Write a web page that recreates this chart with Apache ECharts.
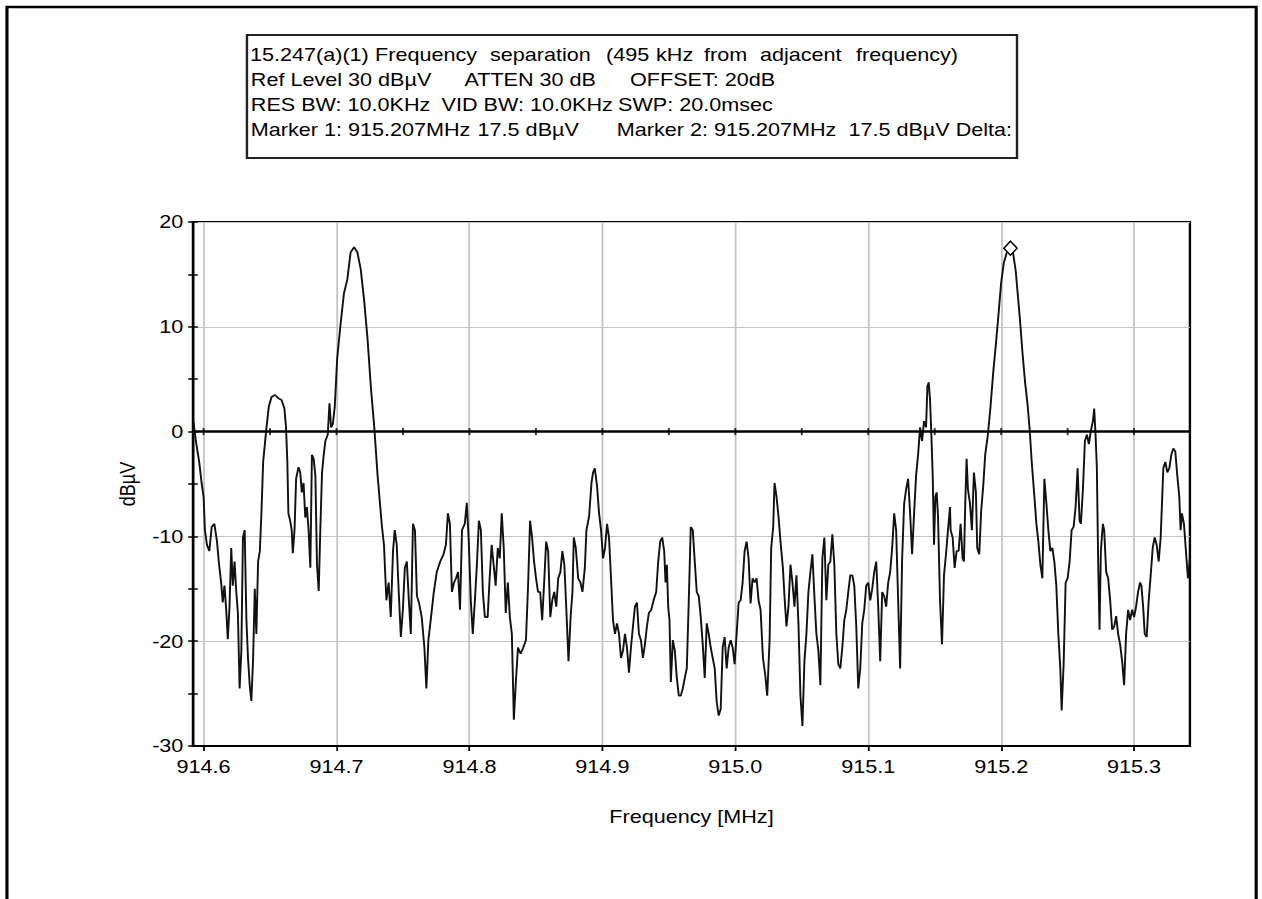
<!DOCTYPE html>
<html>
<head>
<meta charset="utf-8">
<script src="https://cdn.jsdelivr.net/npm/echarts@6/dist/echarts.min.js"></script>
<style>
  html, body { margin: 0; padding: 0; background: #fff; overflow: hidden; }
  /* the analyzer screen uses a horizontally widened raster, so the whole drawing is stretched in x */
  #chart { width: 1052px; height: 899px; transform: scaleX(1.2); transform-origin: 0 0; }
</style>
</head>
<body>
<div id="chart"></div>
<script>
// Sweep trace: frequency (MHz) and level (dBµV)
const freqMHz = [
  914.5924, 914.5942, 914.5967, 914.5985, 914.6000, 914.6010, 914.6025, 914.6043, 914.6061, 914.6081,
  914.6101, 914.6114, 914.6132, 914.6144, 914.6157, 914.6170, 914.6182, 914.6195, 914.6208, 914.6220,
  914.6233, 914.6246, 914.6258, 914.6271, 914.6284, 914.6296, 914.6309, 914.6322, 914.6334, 914.6347,
  914.6359, 914.6372, 914.6385, 914.6397, 914.6410, 914.6423, 914.6435, 914.6448, 914.6461, 914.6473,
  914.6491, 914.6511, 914.6537, 914.6562, 914.6587, 914.6608, 914.6620, 914.6630, 914.6638, 914.6651,
  914.6663, 914.6671, 914.6684, 914.6696, 914.6714, 914.6727, 914.6739, 914.6752, 914.6765, 914.6777,
  914.6790, 914.6803, 914.6815, 914.6828, 914.6841, 914.6853, 914.6866, 914.6878, 914.6891, 914.6904,
  914.6916, 914.6934, 914.6947, 914.6959, 914.6972, 914.6987, 914.7005, 914.7030, 914.7056, 914.7081,
  914.7106, 914.7132, 914.7157, 914.7182, 914.7208, 914.7233, 914.7258, 914.7284, 914.7309, 914.7342,
  914.7357, 914.7375, 914.7392, 914.7408, 914.7425, 914.7438, 914.7453, 914.7468, 914.7484, 914.7499,
  914.7514, 914.7529, 914.7544, 914.7559, 914.7575, 914.7590, 914.7605, 914.7620, 914.7641, 914.7661,
  914.7676, 914.7691, 914.7711, 914.7732, 914.7754, 914.7780, 914.7805, 914.7823, 914.7838, 914.7853,
  914.7868, 914.7884, 914.7899, 914.7914, 914.7929, 914.7944, 914.7965, 914.7980, 914.7995, 914.8010,
  914.8025, 914.8041, 914.8056, 914.8071, 914.8086, 914.8101, 914.8116, 914.8137, 914.8152, 914.8167,
  914.8182, 914.8197, 914.8213, 914.8228, 914.8243, 914.8258, 914.8273, 914.8289, 914.8304, 914.8319,
  914.8334, 914.8349, 914.8365, 914.8385, 914.8405, 914.8425, 914.8441, 914.8456, 914.8471, 914.8486,
  914.8501, 914.8516, 914.8532, 914.8547, 914.8562, 914.8577, 914.8592, 914.8608, 914.8623, 914.8638,
  914.8653, 914.8668, 914.8684, 914.8699, 914.8714, 914.8729, 914.8745, 914.8762, 914.8775, 914.8785,
  914.8800, 914.8818, 914.8835, 914.8850, 914.8868, 914.8880, 914.8900, 914.8918, 914.8930, 914.8943,
  914.8960, 914.8975, 914.8990, 914.9005, 914.9020, 914.9035, 914.9050, 914.9065, 914.9080, 914.9095,
  914.9110, 914.9125, 914.9140, 914.9155, 914.9170, 914.9185, 914.9200, 914.9215, 914.9230, 914.9245,
  914.9260, 914.9275, 914.9290, 914.9305, 914.9320, 914.9335, 914.9350, 914.9368, 914.9385, 914.9405,
  914.9420, 914.9435, 914.9450, 914.9465, 914.9475, 914.9485, 914.9495, 914.9505, 914.9515, 914.9530,
  914.9545, 914.9560, 914.9575, 914.9590, 914.9605, 914.9620, 914.9635, 914.9650, 914.9665, 914.9680,
  914.9695, 914.9710, 914.9725, 914.9740, 914.9755, 914.9770, 914.9785, 914.9800, 914.9815, 914.9830,
  914.9845, 914.9860, 914.9875, 914.9890, 914.9905, 914.9920, 914.9935, 914.9950, 914.9965, 914.9980,
  914.9995, 915.0010, 915.0025, 915.0040, 915.0055, 915.0070, 915.0085, 915.0100, 915.0115, 915.0130,
  915.0145, 915.0160, 915.0175, 915.0190, 915.0208, 915.0225, 915.0240, 915.0258, 915.0270, 915.0285,
  915.0295, 915.0310, 915.0325, 915.0340, 915.0358, 915.0370, 915.0385, 915.0400, 915.0415, 915.0430,
  915.0445, 915.0460, 915.0475, 915.0490, 915.0505, 915.0520, 915.0535, 915.0550, 915.0565, 915.0580,
  915.0595, 915.0610, 915.0625, 915.0640, 915.0655, 915.0670, 915.0685, 915.0700, 915.0715, 915.0730,
  915.0745, 915.0760, 915.0775, 915.0790, 915.0805, 915.0820, 915.0835, 915.0850, 915.0865, 915.0880,
  915.0895, 915.0910, 915.0925, 915.0940, 915.0955, 915.0970, 915.0985, 915.1000, 915.1015, 915.1030,
  915.1045, 915.1060, 915.1075, 915.1090, 915.1105, 915.1120, 915.1135, 915.1150, 915.1165, 915.1180,
  915.1195, 915.1210, 915.1225, 915.1240, 915.1255, 915.1270, 915.1285, 915.1300, 915.1315, 915.1330,
  915.1345, 915.1360, 915.1375, 915.1390, 915.1405, 915.1420, 915.1435, 915.1445, 915.1455, 915.1465,
  915.1475, 915.1485, 915.1495, 915.1505, 915.1515, 915.1525, 915.1540, 915.1555, 915.1570, 915.1585,
  915.1600, 915.1615, 915.1620, 915.1635, 915.1650, 915.1665, 915.1680, 915.1695, 915.1710, 915.1720,
  915.1730, 915.1740, 915.1750, 915.1765, 915.1780, 915.1795, 915.1810, 915.1820, 915.1835, 915.1850,
  915.1865, 915.1880, 915.1900, 915.1920, 915.1940, 915.1960, 915.1980, 915.2000, 915.2020, 915.2045,
  915.2070, 915.2090, 915.2110, 915.2120, 915.2140, 915.2160, 915.2180, 915.2200, 915.2215, 915.2230,
  915.2250, 915.2265, 915.2280, 915.2295, 915.2310, 915.2325, 915.2340, 915.2355, 915.2370, 915.2385,
  915.2400, 915.2415, 915.2430, 915.2445, 915.2455, 915.2470, 915.2485, 915.2500, 915.2515, 915.2530,
  915.2545, 915.2560, 915.2575, 915.2590, 915.2600, 915.2615, 915.2630, 915.2645, 915.2660, 915.2675,
  915.2690, 915.2700, 915.2710, 915.2720, 915.2730, 915.2740, 915.2750, 915.2765, 915.2775, 915.2790,
  915.2805, 915.2820, 915.2835, 915.2850, 915.2865, 915.2880, 915.2895, 915.2910, 915.2925, 915.2940,
  915.2955, 915.2970, 915.2985, 915.3000, 915.3015, 915.3030, 915.3045, 915.3055, 915.3068, 915.3080,
  915.3095, 915.3110, 915.3125, 915.3140, 915.3155, 915.3170, 915.3185, 915.3200, 915.3210, 915.3220,
  915.3235, 915.3250, 915.3265, 915.3280, 915.3295, 915.3310, 915.3325, 915.3340, 915.3350, 915.3360,
  915.3375, 915.3390, 915.3405, 915.3420
];
const levelDbuV = [
    0.9,  -0.9,  -2.9,  -4.9,  -6.2,  -9.4, -10.8, -11.4,  -9.1,  -8.8,
  -10.5, -12.4, -14.4, -16.3, -14.7, -17.0, -19.8, -16.7, -11.1, -14.7,
  -12.4, -15.3, -17.3, -24.5, -20.9, -10.1,  -9.4, -17.9, -21.6, -24.2,
  -25.7, -21.9, -15.0, -19.3, -12.4, -11.4,  -7.8,  -2.9,  -1.2,   0.4,
    2.4,   3.3,   3.5,   3.2,   3.0,   2.2,   0.4,  -2.9,  -7.8,  -8.5,
   -9.4, -11.6,  -9.4,  -4.5,  -3.4,  -3.9,  -5.8,  -4.9,  -8.2,  -7.2,
   -9.4, -13.0,  -2.2,  -2.6,  -4.2, -12.7, -15.2,  -9.4,  -3.9,  -2.2,
   -0.9,  -0.3,   2.7,   0.4,   0.7,   2.4,   7.0,  10.2,  13.2,  14.5,
   17.1,  17.6,  17.1,  15.5,  12.5,   8.9,   4.3,   0.4,  -4.2,  -9.1,
  -10.8, -16.1, -14.4, -17.7, -11.4,  -9.4, -10.8, -15.3, -19.6, -17.0,
  -13.0, -12.4, -16.1, -19.3,  -8.8,  -9.4, -15.7, -16.3, -17.7, -20.6,
  -24.5, -19.9, -17.7, -15.3, -13.4, -12.4, -11.7, -10.8,  -7.8,  -8.8,
  -15.3, -14.4, -14.0, -13.4, -17.0,  -9.4,  -8.8,  -6.8, -10.5, -16.1,
  -19.3, -16.1, -12.7,  -8.5,  -9.4, -15.3, -17.7, -17.7, -14.0, -10.8,
  -12.7, -14.7, -11.1, -12.1,  -7.8, -11.1, -17.3, -14.4, -17.7, -19.3,
  -27.5, -23.9, -20.6, -21.2, -20.6, -19.9, -14.7,  -8.5, -10.1, -12.4,
  -14.0, -15.3, -15.3, -18.0, -14.4, -10.5, -11.4, -17.7, -16.1, -15.3,
  -16.7, -14.0, -13.4, -11.4, -12.7, -17.0, -21.9, -17.5, -15.3, -10.1,
  -11.1, -14.0, -14.4, -15.3, -13.0,  -9.4,  -8.1,  -4.9,  -3.9,  -3.5,
   -5.2,  -7.8,  -9.4, -12.1, -11.1,  -8.8, -10.1, -14.0, -18.0, -19.3,
  -18.3, -19.3, -21.6, -20.9, -19.3, -20.6, -23.0, -20.6, -18.6, -16.7,
  -16.3, -19.3, -19.9, -21.6, -20.3, -18.6, -17.3, -17.0, -16.1, -15.3,
  -12.4, -10.5, -10.1, -11.4, -14.4, -12.7, -16.7, -18.0, -23.9, -19.9,
  -20.9, -23.5, -25.2, -25.2, -24.5, -23.5, -22.6, -16.1,  -9.1,  -9.4,
  -12.4, -15.3, -15.7, -17.7, -20.3, -23.5, -18.3, -19.3, -20.6, -21.6,
  -22.6, -25.8, -27.1, -26.5, -20.6, -19.6, -22.6, -20.6, -19.9, -20.6,
  -22.2, -19.3, -16.3, -16.1, -14.4, -11.4, -10.5, -12.1, -16.4, -14.0,
  -14.4, -14.0, -16.1, -17.0, -21.6, -23.2, -25.2, -19.9, -11.1,  -9.1,
   -4.9,  -6.2,  -8.1, -10.5, -13.0, -15.7, -18.6, -16.7, -12.7, -14.4,
  -16.7, -13.7, -18.3, -25.2, -28.1, -21.9, -19.3, -15.3, -13.4, -11.7,
  -15.7, -19.3, -20.9, -24.2, -12.1, -10.1, -16.1, -12.7, -12.4,  -9.8,
  -12.7, -19.3, -22.2, -22.6, -20.6, -18.0, -17.0, -15.3, -13.7, -13.7,
  -14.7, -18.6, -24.5, -22.6, -18.3, -17.0, -14.7, -14.4, -16.1, -15.0,
  -13.4, -12.4, -16.7, -21.9, -15.3, -15.7, -16.7, -14.4, -13.4, -11.1,
   -7.8,  -9.4, -16.1, -22.6, -12.1,  -6.9,  -5.5,  -4.5,  -7.8, -11.7,
   -7.8,  -4.2,  -2.2,   0.4,  -0.9,   1.0,   0.4,   4.3,   4.7,   3.0,
   -0.3,  -4.2, -10.8,  -6.2,  -5.8,  -8.1, -16.1, -20.3, -13.7, -11.7,
   -9.4,  -7.2,  -9.4, -10.1, -13.0, -11.4, -11.4,  -8.8, -12.1, -12.4,
   -6.8,  -2.6,  -5.5,  -6.8,  -9.4,  -3.9,  -5.8, -11.1, -11.7,  -7.5,
   -5.2,  -2.2,  -0.3,   2.4,   5.6,   8.3,  11.2,  14.2,  16.1,  17.2,
   17.5,  17.0,  15.3,  13.8,  10.9,   7.6,   4.7,   2.4,   0.1,  -2.9,
   -6.2,  -8.8, -10.5, -12.7, -14.0,  -4.5,  -6.8,  -9.4, -11.4, -11.1,
  -12.4, -14.7, -19.3, -22.6, -26.6, -22.2, -14.4, -14.0, -12.4,  -9.4,
   -9.1,  -7.2,  -3.5,  -8.5,  -8.8,  -5.5,  -0.9,  -0.3,  -1.2,   0.1,
    1.0,   2.2,  -0.3,  -3.5, -12.7, -18.9, -11.4,  -8.8,  -9.4, -13.4,
  -14.0, -16.1, -18.9, -18.6, -17.6, -19.3, -20.3, -21.9, -24.2, -19.3,
  -17.0, -18.0, -17.0, -17.7, -16.7, -15.3, -14.4, -14.7, -16.7, -19.3,
  -19.6, -16.1, -13.7, -11.1, -10.1, -10.8, -12.4, -10.1,  -6.8,  -3.5,
   -2.9,  -3.9,  -3.5,  -2.2,  -1.6,  -1.9,  -4.2,  -6.2,  -9.4,  -7.8,
   -8.8, -11.4, -14.0, -12.1
];

// Axis ticks
const freqTicks = [914.6, 914.7, 914.8, 914.9, 915.0, 915.1, 915.2, 915.3];
const zeroLineTicks = [914.6, 914.65, 914.7, 914.75, 914.8, 914.85, 914.9, 914.95,
                       915.0, 915.05, 915.1, 915.15, 915.2, 915.25, 915.3];
const levelMin = -30, levelMax = 20, levelStep = 10;
const freqMin = 914.592, freqMax = 915.342;

// Peak marker
const markerFreq = 915.207;
const markerLevel = 17.5;

// Analyzer settings block: [text, left x] per row
const headerRows = [
  [['15.247(a)(1)', 208.3], ['Frequency', 312.5], ['separation', 408.3], ['(495', 505],
   ['kHz', 546.7], ['from', 586.7], ['adjacent', 633.3], ['frequency)', 713.3]],
  [['Ref Level 30 dBµV', 209], ['ATTEN 30 dB', 387], ['OFFSET: 20dB', 525]],
  [['RES BW: 10.0KHz', 209], ['VID BW: 10.0KHz', 368], ['SWP: 20.0msec', 515]],
  [['Marker 1: 915.207MHz', 209], ['17.5 dBµV', 398], ['Marker 2: 915.207MHz  17.5 dBµV Delta:', 514]]
];
const headerRowY = [55, 80, 105, 130];

const FONT = '"Liberation Sans", Arial, sans-serif';
const trace = freqMHz.map((f, i) => [f, levelDbuV[i]]);

const graphics = [
  { type: 'rect', shape: { x: 5.8, y: 7, width: 1041, height: 930 },
    style: { fill: 'none', stroke: '#000', lineWidth: 2.6 }, silent: true },
  { type: 'rect', shape: { x: 205.8, y: 35, width: 641.7, height: 123 },
    style: { fill: '#fff', stroke: '#222', lineWidth: 2 }, silent: true }
];
headerRows.forEach((row, r) => {
  row.forEach(([txt, x]) => {
    graphics.push({
      type: 'text', x: x, y: headerRowY[r], silent: true,
      style: { text: txt, fill: '#000', font: '18px ' + FONT, verticalAlign: 'middle', align: 'left' }
    });
  });
});

const chart = echarts.init(document.getElementById('chart'), null, { renderer: 'svg', width: 1052, height: 899 });
chart.setOption({
  animation: false,
  backgroundColor: '#fff',
  textStyle: { fontFamily: FONT },
  graphic: graphics,
  grid: { left: 160.8, top: 222, width: 830.8, height: 524, show: true, borderColor: '#000', borderWidth: 2, backgroundColor: '#fff' },
  xAxis: {
    type: 'value', min: freqMin, max: freqMax,
    name: 'Frequency [MHz]', nameLocation: 'middle', nameGap: 62,
    nameTextStyle: { color: '#000', fontSize: 18, fontFamily: FONT },
    axisLine: { onZero: false, lineStyle: { color: '#000', width: 2 } },
    axisTick: { customValues: freqTicks, length: 5, lineStyle: { color: '#000', width: 1.5 } },
    axisLabel: { customValues: freqTicks, margin: 12, color: '#000', fontSize: 18, fontFamily: FONT,
                 formatter: v => v.toFixed(1) },
    splitLine: { show: true, lineStyle: { color: '#c4c4c4', width: 1.5 } }
  },
  yAxis: [{
    type: 'value', min: levelMin, max: levelMax, interval: levelStep,
    name: 'dBµV', nameLocation: 'middle', nameGap: 46,
    nameTextStyle: { color: '#000', fontSize: 18, fontFamily: FONT },
    axisLine: { show: true, lineStyle: { color: '#000', width: 2 } },
    axisTick: { show: true, length: 4, lineStyle: { color: '#000', width: 1.5 } },
    minorTick: { show: true, splitNumber: 2, length: 4, lineStyle: { color: '#000', width: 1.5 } },
    axisLabel: { margin: 8, color: '#000', fontSize: 18, fontFamily: FONT },
    splitLine: { show: true, lineStyle: { color: '#c4c4c4', width: 1 } }
  }, {
    type: 'value', min: levelMin, max: levelMax, interval: levelStep, position: 'left',
    axisLine: { show: false },
    axisTick: { show: true, inside: true, length: 4, lineStyle: { color: '#000', width: 1.5 } },
    minorTick: { show: true, splitNumber: 2, length: 4, lineStyle: { color: '#000', width: 1.5 } },
    axisLabel: { show: false },
    splitLine: { show: false }
  }],
  series: [{
    type: 'line',
    data: trace,
    showSymbol: false,
    lineStyle: { color: '#111', width: 1.6 },
    markLine: {
      silent: true, symbol: 'none', label: { show: false },
      lineStyle: { color: '#000', width: 2.6, type: 'solid' },
      data: [{ yAxis: 0 }]
    },
    markPoint: {
      silent: true, symbol: 'diamond', symbolSize: [11, 14],
      itemStyle: { color: '#fff', borderColor: '#000', borderWidth: 1.4 },
      label: { show: false },
      data: [{ coord: [markerFreq, markerLevel] }]
    }
  }, {
    type: 'scatter',
    data: zeroLineTicks.map(f => [f, 0]),
    symbol: 'rect', symbolSize: [1.6, 7],
    itemStyle: { color: '#000' },
    silent: true, z: 5
  }]
});
</script>
</body>
</html>
